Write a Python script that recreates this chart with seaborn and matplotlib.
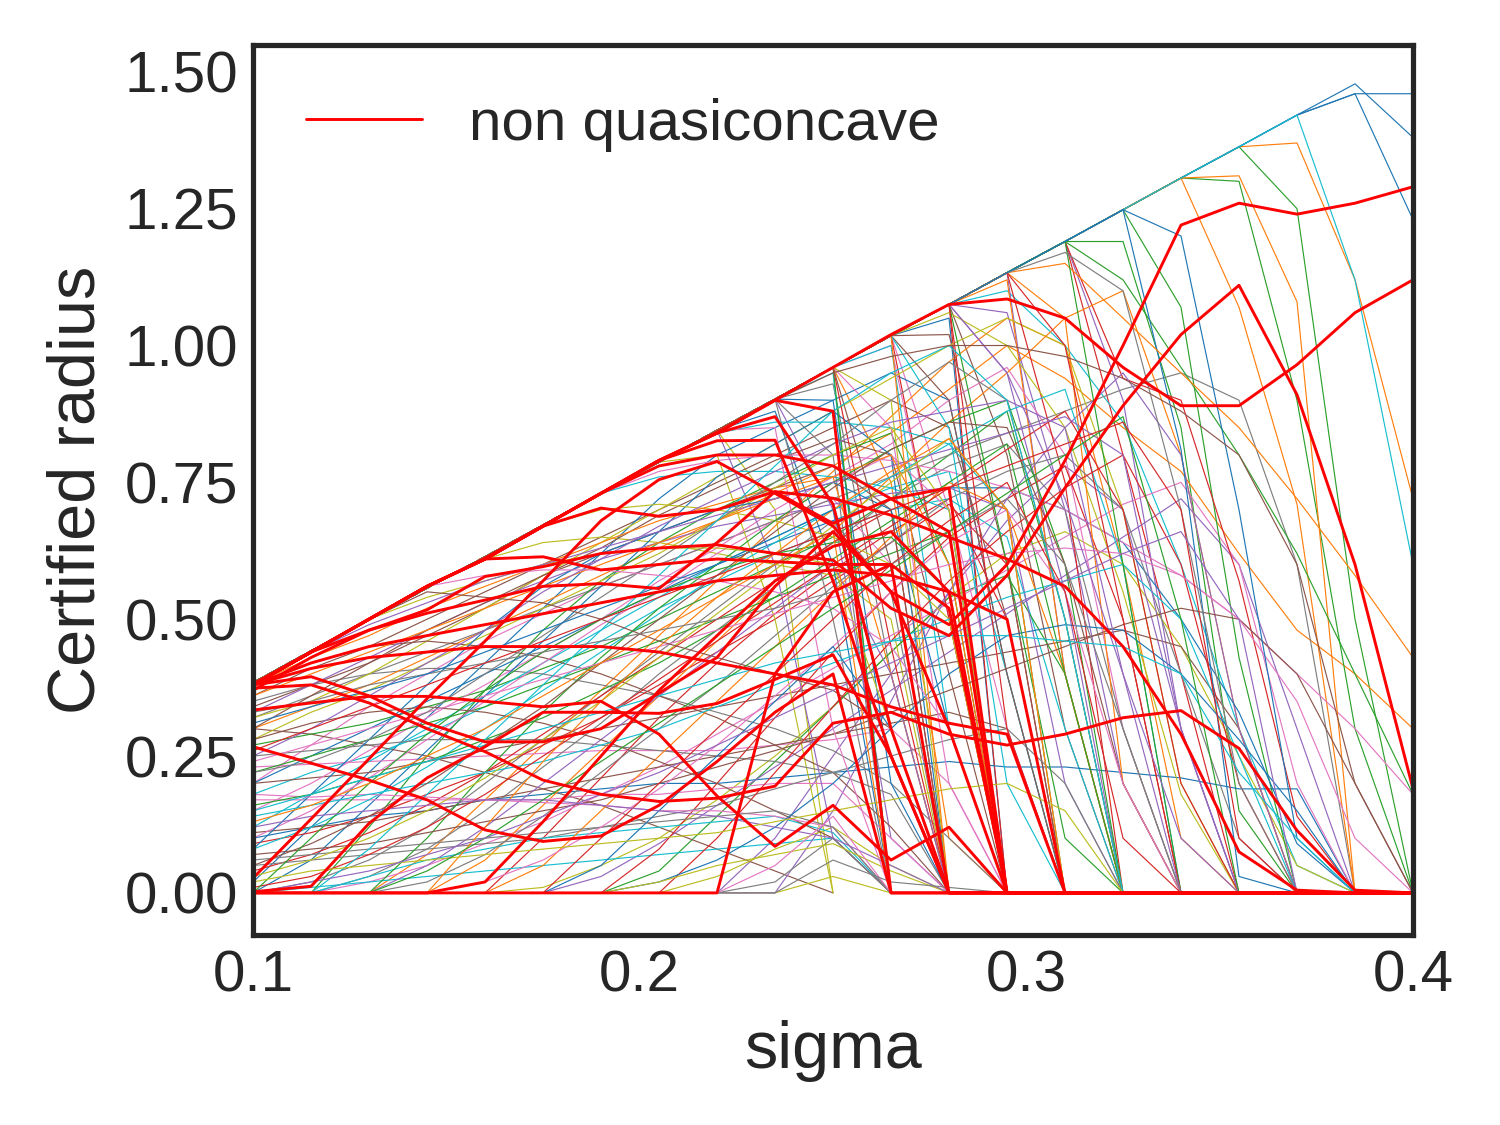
import matplotlib
matplotlib.use("Agg")
import matplotlib.pyplot as plt
from matplotlib.lines import Line2D
import seaborn as sns
import pandas as pd

# ---------------- data ----------------
SIGMA = [0.100, 0.115, 0.130, 0.145, 0.160, 0.175, 0.190, 0.205, 0.220, 0.235, 0.250,
         0.265, 0.280, 0.295, 0.310, 0.325, 0.340, 0.355, 0.370, 0.385, 0.400]

# upper envelope (largest certifiable radius at each sigma)
ENVELOPE = [.384, .442, .499, .557, .614, .672, .730, .787, .845, .902, .960,
            1.018, 1.075, 1.133, 1.190, 1.248, 1.306, 1.363, 1.421, 1.478, 1.536]

# quasiconcave curves that ride the envelope for the first k points, then fall
ENV_DROP = [
    (19, [1.46, 1.46]), (20, [1.38]), (19, [1.46, 1.23]), (19, [1.12, .60]),
    (18, [1.37, 1.12, .72]), (17, [1.07, .71, 0]), (17, [1.31, 1.08, 0]),
    (16, [.81, .03, 0]), (15, [1.19, .85, .15, 0]), (16, [1.07, .43, 0]),
    (15, [1.12, .96, .80, .62, .40, .18]), (14, [1.15, 1.05, .95, .85, .72, .58, .43]),
    (15, [.80, .40, 0]), (15, [.94, .90, .57, .14, 0]), (14, [.75, 0]), (15, [.60, 0]),
    (15, [.90, .30, 0]), (13, [1.06, .70, .20, 0]), (13, [.95, .55, 0]),
    (14, [1.0, .50, 0]), (13, [.80, .30, 0]), (12, [1.02, .60, 0]), (12, [.90, .40, 0]),
    (13, [.95, .72, .40, .10, 0]), (12, [.70, 0]), (11, [1.0, .50, 0]),
    (11, [.85, .20, 0]), (11, [.60, 0]), (10, [.93, .40, 0]), (10, [.80, 0]),
    (10, [.50, 0]), (9, [.85, .30, 0]), (9, [.70, 0]), (8, [.80, .50, 0]),
    (12, [1.06, 1.0, .85, .55, .18, 0]), (14, [1.17, 1.10, .70, .20, 0]),
    (13, [1.10, 1.0, .86, .60, .30, .05, 0]), (10, [.95, 0]), (11, [1.0, .30, 0]),
    (11, [.90, 0]), (12, [1.05, 0]), (9, [.88, .60, 0]), (10, [.90, .20, 0]),
    (12, [.85, .20, 0]), (11, [.75, .10, 0]), (13, [1.12, .40, 0]),
    (14, [1.05, .20, 0]), (16, [1.20, .70, .10, 0]), (18, [1.25, .50, 0]),
    (17, [1.30, .90, .30, 0]), (11, [0]), (12, [0]), (13, [0]), (12, [.50, 0]),
    (11, [.45, 0]), (13, [.60, .10, 0]), (14, [.40, 0]), (10, [.70, .10, 0]),
    (9, [.60, .10, 0]), (13, [.30, 0]),
]

# other quasiconcave curves (listed until they reach zero)
RISING = [
    [.36, .41, .45, .50, .55, .60, .65, .70, .75, .80, .85, .90, .85, .50, 0],
    [.34, .38, .42, .47, .52, .58, .63, .69, .74, .79, .83, .80, .40, 0],
    [.30, .36, .42, .48, .53, .58, .62, .66, .70, .74, .78, .70, 0],
    [.25, .30, .36, .42, .48, .55, .61, .67, .72, .77, .82, .86, .88, .90, .85, .40, 0],
    [.20, .27, .34, .40, .46, .51, .56, .60, .64, .68, .72, .60, 0],
    [.15, .20, .26, .32, .38, .44, .50, .57, .63, .70, .76, .82, .90, .96, .80, .30, 0],
    [.10, .15, .21, .28, .35, .42, .49, .55, .62, .68, .75, .80, .70, .30, 0],
    [.05, .09, .14, .20, .27, .34, .42, .50, .58, .66, .74, .81, .86, .85, .60, .20, 0],
    [0, .02, .06, .12, .20, .28, .36, .44, .52, .60, .68, .55, 0],
    [0, 0, .03, .08, .15, .23, .31, .40, .48, .56, .64, .72, .78, .82, .70, .30, 0],
    [0, 0, 0, .02, .07, .14, .22, .30, .38, .47, .56, .64, .72, .77, .80, .70, .40, .10, 0],
    [0, 0, 0, 0, .02, .06, .12, .19, .27, .36, .45, .55, .64, .70, .55, .20, 0],
    [0, 0, 0, 0, 0, .01, .05, .10, .17, .25, .34, .44, .54, .62, .66, .60, .45, .25, .05, 0],
    [.32, .35, .40, .46, .52, .58, .64, .70, .76, .82, .88, .94, 1.0, 1.05, 1.0, .70, .20, 0],
    [.28, .33, .37, .42, .47, .52, .57, .62, .68, .74, .80, .85, .70, 0],
    [.22, .24, .28, .33, .40, .47, .54, .61, .68, .75, .82, .90, .97, .90, .50, 0],
    [.18, .22, .25, .29, .34, .40, .46, .52, .57, .62, .66, .70, .72, .65, .30, 0],
    [.12, .18, .24, .30, .36, .42, .48, .54, .60, .65, .70, .74, .77, .40, 0],
    [.08, .12, .17, .23, .30, .37, .44, .51, .58, .64, .70, .76, .82, .88, .92, .60, 0],
    [.03, .06, .10, .15, .21, .28, .35, .43, .51, .59, .67, .75, .83, .70, 0],
]

STEEP = [
    [.02, .12, .22, .32, .42, .52, .62, .72, .80, .85, .90, .95, .90, .40, 0],
    [0, .06, .16, .26, .36, .46, .56, .66, .76, .82, .88, .80, 0],
    [.08, .18, .28, .38, .48, .56, .62, .66, .70, .72, .75, .70, .30, 0],
    [0, 0, .08, .18, .28, .38, .48, .58, .68, .78, .88, .95, 1.0, .90, .50, 0],
    [0, 0, 0, .07, .17, .27, .37, .47, .57, .67, .77, .87, .97, 1.05, 1.0, .60, .10, 0],
    [0, 0, 0, 0, .06, .16, .26, .36, .46, .56, .66, .76, .86, .95, 1.05, 1.10, .80, .30, 0],
    [0, 0, 0, 0, 0, .05, .15, .25, .35, .45, .55, .65, .75, .70, .40, 0],
    [0, 0, 0, 0, 0, 0, .05, .15, .25, .35, .45, .30, 0],
    [0, 0, 0, 0, 0, 0, 0, .04, .14, .24, .34, .44, .54, .58, .40, 0],
    [0, 0, .12, .25, .37, .48, .57, .64, .70, .75, .80, .84, .60, 0],
    [0, 0, 0, .10, .22, .33, .43, .52, .60, .68, .75, .81, .86, .90, .60, 0],
    [0, 0, 0, 0, .12, .24, .35, .45, .54, .62, .70, .77, .83, .70, 0],
    [0, 0, 0, 0, 0, .10, .21, .32, .42, .51, .59, .66, .72, .50, 0],
    [0, 0, 0, 0, 0, 0, 0, .08, .20, .32, .44, .55, .65, .72, .78, .50, 0],
    [0, 0, 0, 0, 0, 0, 0, 0, .10, .22, .34, .46, .57, .66, .74, .80, .60, .20, 0],
    [0, .10, .20, .29, .37, .44, .50, .55, .59, .62, .64, .65, .55, 0],
    [0, 0, 0, 0, 0, 0, 0, 0, 0, .10, .25, .40, .55, .68, .78, .70, .30, 0],
    [0, 0, 0, 0, 0, 0, 0, 0, 0, 0, .15, .35, .55, .72, .85, .95, .80, .30, 0],
    [0, 0, 0, .05, .12, .20, .28, .36, .44, .52, .60, .40, 0],
    [0, 0, 0, 0, 0, 0, .10, .20, .30, .40, .50, .60, .68, .75, .55, .10, 0],
]

FLAT = [
    [.30, .29, .27, .25, .22, .19, .16, .12, .08, .04, 0],
    [.38, .42, .45, .46, .45, .43, .40, .36, .32, .27, .22, .12, 0],
    [.28, .31, .33, .34, .33, .31, .28, .24, .20, .15, .10, 0],
    [.12, .14, .15, .16, .17, .17, .16, .15, .14, .12, .10, .05, 0],
    [.23, .235, .24, .245, .25, .255, .26, .26, .26, .27, .28, .30, .20, 0],
    [.17, .17, .17, .17, .17, .17, .18, .18, .19, .20, .20, .10, 0],
    [.18, .175, .18, .175, .17, .165, .16, .15, .15, .14, .12, 0],
    [.38, .44, .50, .55, .54, .53, .50, .46, .43, .40, .37, .30, 0],
    [.35, .38, .40, .41, .41, .40, .38, .36, .33, .30, .26, .20, .10, 0],
    [.25, .26, .27, .28, .28, .28, .27, .26, .25, .24, .22, .18, 0],
    [.06, .07, .08, .09, .10, .11, .12, .13, .14, .15, .12, 0],
    [.38, .44, .50, .56, .58, .59, .59, .58, .57, .55, .52, .45, .30, 0],
    [.38, .44, .50, .56, .61, .64, .65, .64, .62, .60, .58, .50, 0],
    [.38, .44, .50, .56, .61, .67, .70, .71, .70, .68, .65, .60, .50, 0],
    [.38, .44, .50, .54, .57, .60, .62, .63, .63, .62, .60, .30, 0],
    [.33, .35, .38, .40, .42, .44, .46, .48, .50, .52, .55, .60, .66, .72, .60, .30, 0],
    [.38, .44, .50, .56, .61, .67, .73, .76, .77, .77, .76, .74, .70, 0],
    [.38, .44, .50, .56, .61, .67, .73, .79, .84, .86, .86, .85, .82, .70, 0],
    [.14, .16, .18, .20, .22, .24, .27, .30, .34, .38, .42, .46, .50, .54, .57, .60, .50, .25, 0],
    [.02, .04, .05, .06, .07, .08, .09, .10, .11, .13, .15, .17, .19, .20, .15, 0],
    [.10, .12, .14, .15, .17, .18, .19, .20, .20, .21, .22, .23, .24, .23, .23, .22, .21, .19, .19, 0],
    [.20, .25, .30, .35, .40, .45, .50, .55, .60, .64, .68, .72, .74, .74, .70, .64, .50, .33, .09, 0],
    [0, 0, 0, 0, 0, 0, 0, .02, .06, .12, .20, .30, .40, .47, .49, .48, .40, .28, .15, 0],
    [.15, .18, .21, .24, .27, .30, .33, .36, .39, .42, .44, .46, .47, .47, .46, .45, .40, .22, .10, 0],
    [.30, .34, .38, .43, .48, .53, .58, .63, .68, .73, .78, .84, .92, 1.0, .94, .85, .77, .62, .48, .40, .30],
]

MORE = [
    [.38, .43, .47, .52, .56, .60, .64, .68, .71, .74, .76, .40, 0],
    [.36, .40, .44, .48, .52, .56, .60, .64, .68, .72, .76, .80, .60, 0],
    [.31, .34, .37, .40, .44, .48, .52, .56, .60, .65, .70, .30, 0],
    [.27, .29, .31, .34, .37, .41, .45, .50, .55, .60, .65, .72, .80, .88, .50, 0],
    [.22, .25, .28, .31, .34, .38, .42, .46, .50, .54, .58, .62, .66, 0],
    [.16, .18, .21, .24, .28, .32, .37, .42, .48, .54, .61, .68, .75, .82, .40, 0],
    [.13, .16, .20, .25, .30, .36, .42, .48, .54, .60, .66, 0],
    [.09, .11, .14, .18, .22, .27, .32, .38, .44, .50, .57, .64, .71, .60, 0],
    [.04, .07, .11, .16, .22, .29, .36, .43, .50, .57, .64, .70, 0],
    [.01, .03, .07, .12, .18, .25, .32, .39, .46, .53, .60, .67, .74, .81, .88, .70, .20, 0],
    [0, 0, 0, .04, .10, .17, .24, .31, .38, .45, .52, .59, .66, .73, .80, .87, .50, 0],
    [0, 0, 0, 0, 0, 0, .03, .09, .16, .23, .30, .37, .44, .51, .58, .65, .72, .60, .30, 0],
    [.33, .38, .43, .48, .53, .57, .61, .64, .67, .69, .71, .73, .74, .70, .20, 0],
    [.38, .44, .49, .53, .57, .60, .63, .66, .69, .72, .75, .78, .81, .84, .87, .80, .30, 0],
    [.26, .30, .34, .38, .42, .46, .50, .54, .58, .62, .66, .70, .74, .78, .82, .86, .70, .10, 0],
    [.20, .21, .22, .24, .26, .28, .30, .32, .34, .36, .38, .40, .42, .44, .46, .48, .45, .30, 0],
    [.11, .12, .13, .15, .17, .19, .21, .23, .25, .27, .29, .31, .33, .30, 0],
    [.07, .08, .09, .11, .13, .15, .17, .20, .23, .26, .29, .33, .37, .41, .45, .49, .52, .50, .40, .20, 0],
    [0, .02, .04, .07, .10, .14, .18, .22, .27, .32, .37, .42, .47, .52, .57, .62, .66, .50, 0],
    [0, 0, .02, .05, .09, .13, .18, .23, .29, .35, .41, .47, .53, .59, .65, .71, .75, .60, .20, 0],
    [.38, .44, .50, .56, .61, .67, .73, .77, .79, .80, .80, .79, .77, .74, .70, .64, .58, .50, .40, .30, .18],
    [.24, .27, .30, .33, .36, .39, .42, .45, .48, .51, .54, .57, .60, .62, .63, .62, .58, .50, .35, .10, 0],
    [.38, .44, .50, .56, .61, .67, .73, .79, .84, .90, .95, .98, 1.0, 1.0, .98, .94, .88, .80, .60, .20, 0],
    [.32, .36, .40, .44, .48, .52, .56, .60, .64, .68, .72, .76, .80, .84, .88, .92, .95, .90, .60, 0],
    [.05, .06, .07, .08, .09, .10, .12, .14, .16, .19, .22, .25, .28, .30, .20, 0],
]

BUMPS = [
    [0, 0, 0, 0, 0, 0, 0, 0, 0, .02, .10, 0],
    [0, 0, 0, 0, 0, 0, 0, 0, 0, .05, .14, 0],
    [0, 0, 0, 0, 0, 0, 0, 0, 0, 0, .03, 0],
    [0, 0, 0, 0, 0, 0, 0, 0, .03, .08, .12, .05, 0],
    [0, 0, 0, 0, 0, 0, 0, .02, .05, .07, .09, .04, 0],
    [0, 0, 0, 0, 0, 0, 0, 0, 0, 0, .06, .02, .01, 0],
    [0, .01, .02, .03, .04, .05, .06, .07, .08, .09, .10, 0],
    [0, 0, .03, .06, .08, .10, .11, .12, .13, .14, .11, 0],
]

# non quasiconcave curves (red)
NON_QC = [
    [.38, .44, .50, .56, .61, .67, .73, .79, .84, .90, .96, 1.02, 1.075, 1.085, 1.05, .96, .89, .89, .965, 1.06, 1.12],
    [.38, .44, .50, .56, .61, .67, .73, .79, .84, .90, .88, 0, 0, 0, 0, 0, 0, 0, 0, 0, 0],
    [.38, .395, .36, .31, .276, .276, .30, .365, .43, .56, .66, .55, .49, .60, .79, 1.0, 1.22, 1.26, 1.24, 1.26, 1.29],
    [.37, .43, .48, .517, .578, .596, .62, .63, .636, .62, .608, .52, .47, .58, .74, .89, 1.02, 1.11, .91, .60, .19],
    [.374, .38, .347, .30, .258, .206, .18, .167, .173, .195, .31, .33, .29, .27, .29, .32, .333, .264, .114, .005, 0],
    [.334, .347, .359, .359, .35, .34, .35, .29, .177, .085, .16, .06, .12, 0, 0, 0, 0, 0, 0, 0, 0],
    [.267, .237, .206, .17, .115, .094, .104, .16, .24, .33, .40, 0, 0, 0, 0, 0, 0, 0, 0, 0, 0],
    [.002, .012, .127, .21, .267, .33, .33, .328, .346, .39, .435, .25, 0, 0, 0, 0, 0, 0, 0, 0, 0],
    [.027, .135, .245, .355, .46, .57, .68, .755, .788, .73, .67, .55, .30, 0, 0, 0, 0, 0, 0, 0, 0],
    [.38, .44, .50, .56, .61, .614, .59, .60, .61, .605, .60, .60, .52, 0, 0, 0, 0, 0, 0, 0, 0],
    [.38, .44, .50, .56, .61, .67, .73, .79, .826, .827, .57, .25, 0, 0, 0, 0, 0, 0, 0, 0, 0],
    [.38, .44, .48, .511, .535, .56, .565, .556, .64, .733, .675, .72, .74, 0, 0, 0, 0, 0, 0, 0, 0],
    [.38, .44, .50, .56, .61, .67, .703, .688, .70, .733, .721, .69, .65, .61, .56, .45, .29, .075, .005, 0, 0],
    [.38, .44, .50, .56, .61, .67, .73, .79, .84, .87, .71, .30, 0, 0, 0, 0, 0, 0, 0, 0, 0],
    [.38, .44, .50, .56, .61, .67, .73, .78, .80, .80, .78, .72, .66, 0, 0, 0, 0, 0, 0, 0, 0],
    [0, 0, 0, 0, 0, 0, 0, 0, 0, .40, .55, .60, 0, 0, 0, 0, 0, 0, 0, 0, 0],
    [0, 0, 0, 0, .02, .13, .25, .37, .47, .57, .633, .66, .55, 0, 0, 0, 0, 0, 0, 0, 0],
    [.38, .42, .45, .47, .49, .51, .53, .55, .57, .58, .59, .58, .55, .50, 0, 0, 0, 0, 0, 0, 0],
    [.38, .41, .43, .44, .45, .45, .45, .44, .42, .40, .38, .34, .31, .29, 0, 0, 0, 0, 0, 0, 0],
]

X_TICKS = [0.1, 0.2, 0.3, 0.4]
X_TICK_LABELS = ["0.1", "0.2", "0.3", "0.4"]
Y_TICKS = [0.00, 0.25, 0.50, 0.75, 1.00, 1.25, 1.50]
Y_TICK_LABELS = ["0.00", "0.25", "0.50", "0.75", "1.00", "1.25", "1.50"]

# ---------------- build long tables ----------------
thin_curves = ([ENVELOPE[:k] + tail for k, tail in ENV_DROP]
               + RISING + STEEP + FLAT + MORE + BUMPS)
# interleave groups so colours mix like the original
order = []
n = len(thin_curves)
for start in range(4):
    order += list(range(start, n, 4))
thin_curves = [thin_curves[i] for i in order]

rows = []
for cid, vals in enumerate(thin_curves):
    for s, r in zip(SIGMA, vals):
        rows.append((cid, s, r))
thin_df = pd.DataFrame(rows, columns=["curve", "sigma", "radius"])

red_rows = []
for cid, vals in enumerate(NON_QC):
    for s, r in zip(SIGMA, vals):
        red_rows.append((cid, s, r))
red_df = pd.DataFrame(red_rows, columns=["curve", "sigma", "radius"])

# ---------------- style ----------------
sns.set_style("white")
plt.rcParams["font.family"] = ["Liberation Sans", "DejaVu Sans"]

fig, ax = plt.subplots(figsize=(5, 3.75), dpi=300)
fig.subplots_adjust(left=0.1687, right=0.942, bottom=0.169, top=0.96)

tab = sns.color_palette("tab10")
pal = {cid: tab[cid % 10] for cid in range(len(thin_curves))}

sns.lineplot(data=thin_df, x="sigma", y="radius", hue="curve", units="curve",
             estimator=None, palette=pal, linewidth=0.28, legend=False, ax=ax)
sns.lineplot(data=red_df, x="sigma", y="radius", units="curve", estimator=None,
             color="red", linewidth=0.7, legend=False, ax=ax)

handle = Line2D([0], [0], color="red", linewidth=0.7)
ax.legend([handle], ["non quasiconcave"], loc="upper left", frameon=False, fontsize=14)

ax.set_xlim(0.1, 0.4)
ax.set_ylim(-0.0767, 1.549)
ax.set_xticks(X_TICKS)
ax.set_xticklabels(X_TICK_LABELS)
ax.set_yticks(Y_TICKS)
ax.set_yticklabels(Y_TICK_LABELS)
ax.tick_params(labelsize=14, colors=".15", length=0, pad=3.5)
ax.set_xlabel("sigma", fontsize=16, color=".15")
ax.set_ylabel("Certified radius", fontsize=16, color=".15")
for sp in ax.spines.values():
    sp.set_color(".15")
    sp.set_linewidth(1.25)

fig.savefig("out.png", dpi=300)
